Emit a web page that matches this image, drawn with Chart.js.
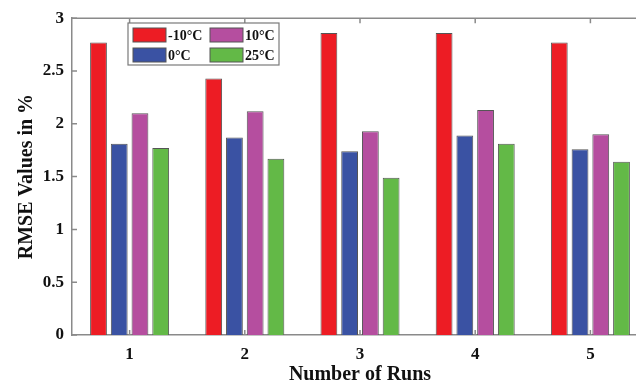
<!DOCTYPE html>
<html>
<head>
<meta charset="utf-8">
<script src="https://cdn.jsdelivr.net/npm/chart.js@4/dist/chart.umd.min.js"></script>
<style>
    html, body { margin: 0; padding: 0; background: #fff; overflow: hidden; }
    #wrap { width: 660px; height: 387px; }
</style>
</head>
<body>
<div id="wrap"><canvas id="rmse-plot" width="660" height="387"></canvas></div>
<script>
// Data
const runs = ['1', '2', '3', '4', '5']
const tempLabels = ['-10°C', '0°C', '10°C', '25°C']
const rmseMinus10 = [2.77, 2.43, 2.86, 2.86, 2.77]
const rmse0 = [1.81, 1.87, 1.74, 1.89, 1.76]
const rmse10 = [2.10, 2.12, 1.93, 2.13, 1.90]
const rmse25 = [1.77, 1.67, 1.49, 1.81, 1.64]
const yTicks = [0, 0.5, 1, 1.5, 2, 2.5, 3]

const colors = ['#ED1C24', '#3A52A3', '#B54E9F', '#63B947']
const axisGrey = '#8a8a8a'
const serifBold = {family: '"Liberation Serif", "Times New Roman", serif', weight: 'bold'}

// MATLAB-ish inner ticks + legend box drawn on top
const matlabBits = {
    id: 'matlabBits',
    afterDraw(chart) {
        const c = chart.ctx
        const a = chart.chartArea
        const x = chart.scales.x
        const y = chart.scales.y
        c.save()
        c.strokeStyle = axisGrey
        c.lineWidth = 1.5
        // top border
        c.beginPath()
        c.moveTo(a.left, a.top)
        c.lineTo(a.right, a.top)
        c.stroke()
        c.beginPath()
        x.ticks.forEach((t, i) => {
            const px = x.getPixelForTick(i)
            c.moveTo(px, a.top); c.lineTo(px, a.top + 5)
            c.moveTo(px, a.bottom); c.lineTo(px, a.bottom - 5)
        })
        y.ticks.forEach((t, i) => {
            const py = y.getPixelForTick(i)
            c.moveTo(a.left, py); c.lineTo(a.left + 5, py)
        })
        c.stroke()

        // legend: -10 / 0 in the left column, 10 / 25 in the right one
        const lx = 128, ly = 23, lw = 151, lh = 42
        c.fillStyle = '#fff'
        c.fillRect(lx, ly, lw, lh)
        c.strokeStyle = '#7a7a7a'
        c.lineWidth = 1.2
        c.strokeRect(lx, ly, lw, lh)
        c.font = 'bold 14px "Liberation Serif", serif'
        c.textBaseline = 'middle'
        chart.data.datasets.forEach((ds, i) => {
            const cx = lx + 5 + (i >= 2 ? 77 : 0)
            const cy = ly + 5 + (i % 2) * 20
            c.fillStyle = ds.backgroundColor
            c.fillRect(cx, cy, 33, 14)
            c.strokeStyle = '#555'
            c.lineWidth = 1
            c.strokeRect(cx, cy, 33, 14)
            c.fillStyle = '#111'
            c.fillText(ds.label, cx + 35, cy + 8)
        })
        c.restore()
    }
}

const values = [rmseMinus10, rmse0, rmse10, rmse25]
const datasets = values.map((v, i) => ({
    label: tempLabels[i],
    data: v,
    backgroundColor: colors[i],
    borderColor: '#555',
    borderWidth: 1,
    categoryPercentage: 0.72,
    barPercentage: 0.81
}))

new Chart(document.getElementById('rmse-plot'), {
    type: 'bar',
    data: {labels: runs, datasets: datasets},
    options: {
        responsive: false,
        animation: false,
        layout: {padding: {top: 14, right: 12, left: 0, bottom: 0}},
        plugins: {legend: {display: false}, tooltip: {enabled: false}},
        scales: {
            x: {
                grid: {display: false, drawTicks: false},
                border: {color: axisGrey, width: 1.5},
                ticks: {color: '#111', font: {...serifBold, size: 17}, padding: 9},
                title: {display: true, text: 'Number of Runs', color: '#111', font: {...serifBold, size: 20}, padding: {top: 0, bottom: 0}},
                afterFit: (s) => { s.height = 52 }
            },
            y: {
                min: 0,
                max: 3,
                afterBuildTicks: (s) => { s.ticks = yTicks.map(v => ({value: v})) },
                grid: {display: false, drawTicks: false},
                border: {color: axisGrey, width: 1.5},
                ticks: {color: '#111', font: {...serifBold, size: 17}, padding: 8, callback: (v) => String(v)},
                title: {display: true, text: 'RMSE Values in %', color: '#111', font: {...serifBold, size: 20}, padding: {top: 15, bottom: 0}},
                afterFit: (s) => { s.width = 72 }
            }
        }
    },
    plugins: [matlabBits]
})
</script>
</body>
</html>
